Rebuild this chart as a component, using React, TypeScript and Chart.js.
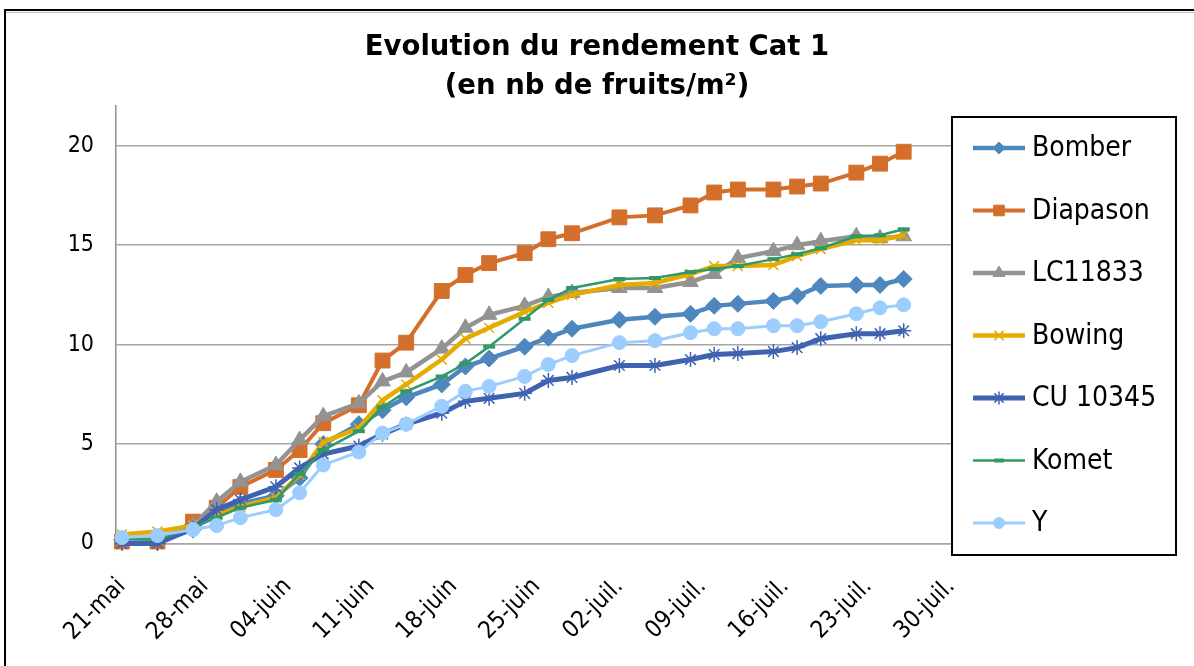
import React, { useEffect, useRef } from "react";
import { Chart, registerables } from "chart.js";
import { drawPoint } from "chart.js/helpers";

Chart.register(...registerables);

// ---- data ----
const startDate = "2019-05-21";
const harvestDates = [
  "2019-05-21", "2019-05-24", "2019-05-27", "2019-05-29", "2019-05-31",
  "2019-06-03", "2019-06-05", "2019-06-07", "2019-06-10", "2019-06-12",
  "2019-06-14", "2019-06-17", "2019-06-19", "2019-06-21", "2019-06-24",
  "2019-06-26", "2019-06-28", "2019-07-02", "2019-07-05", "2019-07-08",
  "2019-07-10", "2019-07-12", "2019-07-15", "2019-07-17", "2019-07-19",
  "2019-07-22", "2019-07-24", "2019-07-26",
];
const tickLabels = [
  "21-mai", "28-mai", "04-juin", "11-juin", "18-juin", "25-juin",
  "02-juil.", "09-juil.", "16-juil.", "23-juil.", "30-juil.",
];
const yTicks = [0, 5, 10, 15, 20];

const bomber = [0.2, 0.1, 0.7, 1.6, 2.0, 2.4, 3.3, 5.0, 6.0, 6.7, 7.35, 8.0, 8.9, 9.3, 9.9, 10.35, 10.8, 11.25, 11.4, 11.55, 11.95, 12.05, 12.2, 12.45, 12.95, 13.0, 13.0, 13.3];
const diapason = [0.1, 0.1, 1.1, 1.8, 2.85, 3.7, 4.7, 6.05, 6.95, 9.2, 10.1, 12.7, 13.5, 14.1, 14.6, 15.3, 15.6, 16.4, 16.5, 17.0, 17.65, 17.8, 17.8, 17.95, 18.1, 18.65, 19.1, 19.7];
const lc11833 = [0.2, 0.2, 0.9, 2.1, 3.1, 3.95, 5.2, 6.4, 7.05, 8.15, 8.6, 9.8, 10.85, 11.5, 11.95, 12.4, 12.6, 12.85, 12.85, 13.15, 13.55, 14.35, 14.7, 15.0, 15.2, 15.45, 15.35, 15.45];
const bowing = [0.45, 0.6, 0.9, 1.4, 1.85, 2.3, 3.45, 5.1, 5.8, 7.2, 8.0, 9.25, 10.3, 10.85, 11.65, 12.1, 12.5, 13.0, 13.1, 13.55, 13.95, 13.95, 14.0, 14.45, 14.8, 15.25, 15.25, 15.5];
const cu10345 = [0.0, 0.0, 0.75, 1.7, 2.2, 2.85, 3.8, 4.5, 4.9, 5.5, 6.0, 6.55, 7.15, 7.3, 7.55, 8.2, 8.35, 8.95, 8.95, 9.25, 9.5, 9.55, 9.65, 9.85, 10.3, 10.55, 10.55, 10.7];
const komet = [0.25, 0.2, 0.8, 1.3, 1.8, 2.2, 3.5, 4.7, 5.65, 6.85, 7.65, 8.4, 9.05, 9.9, 11.3, 12.25, 12.85, 13.3, 13.35, 13.65, 13.8, 13.95, 14.3, 14.55, 14.85, 15.45, 15.5, 15.8];
const yVar = [0.3, 0.4, 0.7, 0.9, 1.3, 1.7, 2.55, 3.95, 4.6, 5.55, 6.0, 6.9, 7.65, 7.9, 8.4, 9.0, 9.45, 10.1, 10.2, 10.6, 10.8, 10.8, 10.95, 10.95, 11.15, 11.55, 11.85, 12.0];

// ---- helpers / styles ----
const FONT = '"DejaVu Sans Condensed", "DejaVu Sans", sans-serif';
const TITLE_FONT = '"DejaVu Sans", sans-serif';
const DAY = 86400000;
const dayOf = (s: string) => Math.round((Date.parse(s) - Date.parse(startDate)) / DAY);
const tickDays = tickLabels.map((_, i) => i * 7);

type Series = {
  label: string; values: number[]; color: string; width: number;
  style: string; radius: number; pbw: number; legendRadius: number;
};
const series: Series[] = [
  { label: "Bomber", values: bomber, color: "#4E87BE", width: 4.5, style: "rectRot", radius: 8.5, pbw: 1, legendRadius: 6 },
  { label: "Diapason", values: diapason, color: "#D46F2B", width: 4, style: "rect", radius: 10.5, pbw: 1, legendRadius: 7.5 },
  { label: "LC11833", values: lc11833, color: "#939393", width: 4.5, style: "triangle", radius: 9, pbw: 1, legendRadius: 7 },
  { label: "Bowing", values: bowing, color: "#E5AB00", width: 4.5, style: "crossRot", radius: 7, pbw: 1.5, legendRadius: 6.5 },
  { label: "CU 10345", values: cu10345, color: "#3F63B1", width: 5, style: "star", radius: 7.5, pbw: 1.5, legendRadius: 6.5 },
  { label: "Komet", values: komet, color: "#2F9A67", width: 2.5, style: "line", radius: 6, pbw: 4, legendRadius: 5 },
  { label: "Y", values: yVar, color: "#9CCDFF", width: 3, style: "circle", radius: 7, pbw: 1, legendRadius: 5.5 },
];

const frame = {
  id: "frame",
  beforeDraw(chart: any) {
    const ctx = chart.ctx;
    ctx.save();
    ctx.strokeStyle = "#000";
    ctx.lineWidth = 2;
    ctx.beginPath();
    ctx.moveTo(5, 666);
    ctx.lineTo(5, 10);
    ctx.lineTo(1194, 10);
    ctx.stroke();
    ctx.strokeStyle = "#BDBDBD";
    ctx.lineWidth = 1;
    ctx.beginPath();
    ctx.moveTo(6, 12.5);
    ctx.lineTo(1194, 12.5);
    ctx.stroke();
    ctx.restore();
  },
};

const legendBox = {
  id: "legendBox",
  afterDraw(chart: any) {
    const ctx = chart.ctx;
    const lx = 952, ly = 117, lw = 224, lh = 438;
    ctx.save();
    ctx.fillStyle = "#fff";
    ctx.fillRect(lx, ly, lw, lh);
    ctx.strokeStyle = "#000";
    ctx.lineWidth = 2;
    ctx.strokeRect(lx, ly, lw, lh);
    series.forEach((s, i) => {
      const cy = 148 + i * 62.5;
      ctx.strokeStyle = s.color;
      ctx.lineWidth = s.width;
      ctx.beginPath();
      ctx.moveTo(973, cy);
      ctx.lineTo(1025, cy);
      ctx.stroke();
      ctx.fillStyle = s.color;
      ctx.strokeStyle = s.color;
      ctx.lineWidth = s.pbw;
      drawPoint(ctx, { pointStyle: s.style as any, radius: s.legendRadius, rotation: 0, borderWidth: s.pbw } as any, 999, cy);
      ctx.fillStyle = "#000";
      ctx.font = `28px ${FONT}`;
      ctx.textBaseline = "middle";
      ctx.textAlign = "left";
      ctx.fillText(s.label, 1032, cy + 1);
    });
    ctx.restore();
  },
};

export default function App() {
  const ref = useRef<HTMLCanvasElement | null>(null);
  useEffect(() => {
    if (!ref.current) return;
    const xs = harvestDates.map(dayOf);
    const chart = new Chart(ref.current, {
      type: "line",
      data: {
        datasets: series.map((s, i) => ({
          label: s.label,
          data: s.values.map((v, j) => ({ x: xs[j], y: v })),
          borderColor: s.color,
          backgroundColor: s.color,
          borderWidth: s.width,
          pointStyle: s.style as any,
          pointRadius: s.radius,
          pointBorderWidth: s.pbw,
          pointBorderColor: s.color,
          pointBackgroundColor: s.color,
          tension: 0,
          order: series.length - i,
          clip: false as any,
        })),
      },
      options: {
        animation: false,
        responsive: false,
        layout: { padding: { top: 28, left: 0, right: 0, bottom: 0 } },
        plugins: {
          legend: { display: false },
          tooltip: { enabled: false },
          title: {
            display: true,
            text: ["Evolution du rendement Cat 1", "(en nb de fruits/m²)"],
            color: "#000",
            font: { family: TITLE_FONT, size: 27.5, weight: "bold", lineHeight: 39 / 27.5 },
            padding: { top: 0, bottom: 0 },
          },
        },
        scales: {
          x: {
            type: "linear",
            min: -0.5,
            max: 70.5,
            afterBuildTicks: (s: any) => { s.ticks = tickDays.map((v) => ({ value: v })); },
            afterFit: (s: any) => { s.height = 122.5; },
            ticks: {
              autoSkip: false,
              minRotation: 45,
              maxRotation: 45,
              color: "#000",
              font: { family: FONT, size: 24 },
              padding: 29,
              labelOffset: 0,
              callback: (v: any) => tickLabels[Math.round(Number(v) / 7)] ?? "",
            },
            grid: { display: false, drawTicks: false },
            border: { display: true, color: "#A6A6A6", width: 1.5 },
          },
          y: {
            min: 0,
            max: 22,
            afterBuildTicks: (s: any) => { s.ticks = yTicks.map((v) => ({ value: v })); },
            afterFit: (s: any) => { s.width = 116; },
            ticks: { color: "#000", font: { family: FONT, size: 23 }, padding: 22 },
            grid: { color: "#A6A6A6", lineWidth: 1.5, drawTicks: false },
            border: { display: true, color: "#8F8F8F", width: 1.5 },
          },
          spacer: {
            type: "linear",
            position: "right",
            display: true,
            afterFit: (s: any) => { s.width = 237; },
            ticks: { display: false },
            grid: { display: false, drawOnChartArea: false, drawTicks: false },
            border: { display: false },
          },
        },
      },
      plugins: [frame, legendBox],
    });
    return () => chart.destroy();
  }, []);
  return (
    <div style={{ position: "absolute", left: 0, top: 0, width: 1194, height: 666, background: "#fff" }}>
      <canvas ref={ref} width={1194} height={666} style={{ width: 1194, height: 666, display: "block" }} />
    </div>
  );
}
